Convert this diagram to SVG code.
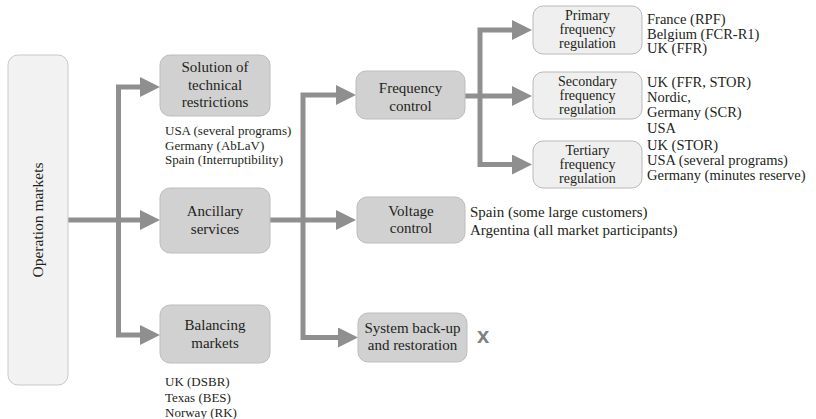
<svg xmlns="http://www.w3.org/2000/svg" width="816" height="419" viewBox="0 0 816 419">
<style>
.main{fill:#d1d1d1;stroke:#bdbdbd;stroke-width:1}
.light{fill:#efefef;stroke:#b9b9b9;stroke-width:1}
.outer{fill:#f2f2f2;stroke:#c9c9c9;stroke-width:1}
.conn{fill:none;stroke:#8f8f8f;stroke-width:5;stroke-linejoin:miter}
text{font-family:"Liberation Serif","Times New Roman",serif;fill:#231f20}
.t15{font-size:15px;text-anchor:middle}
.t14{font-size:14px;text-anchor:middle}
.l13{font-size:13px}
.l145{font-size:14.5px}
.l15{font-size:15px}
</style>
<defs>
<marker id="ah" markerUnits="userSpaceOnUse" markerWidth="20" markerHeight="20" refX="5" refY="10" orient="auto">
<path d="M0,0 L20,10 L0,20 z" fill="#8f8f8f"/>
</marker>
</defs>

<g id="connectors">
<path class="conn" d="M68,220 H145" marker-end="url(#ah)"/>
<path class="conn" d="M118.5,222 V87 H145" marker-end="url(#ah)"/>
<path class="conn" d="M118.5,218 V335 H145" marker-end="url(#ah)"/>
<path class="conn" d="M270,220 H341" marker-end="url(#ah)"/>
<path class="conn" d="M303,222 V95 H341" marker-end="url(#ah)"/>
<path class="conn" d="M303,218 V337.5 H343" marker-end="url(#ah)"/>
<path class="conn" d="M465,96 H517" marker-end="url(#ah)"/>
<path class="conn" d="M480,98 V30 H517" marker-end="url(#ah)"/>
<path class="conn" d="M480,94 V164.5 H517" marker-end="url(#ah)"/>
</g>

<g id="operation-markets">
<rect class="outer" x="8" y="55" width="60" height="330" rx="10"/>
<text transform="translate(43,220) rotate(-90)" style="font-size:15.5px;text-anchor:middle">Operation markets</text>
</g>

<g id="solution">
<rect class="main" x="160" y="55" width="110" height="61" rx="10"/>
<text class="t15" x="215" y="72">Solution of</text>
<text class="t15" x="215" y="89.5">technical</text>
<text class="t15" x="215" y="107">restrictions</text>
<text class="l13" x="165" y="135">USA (several programs)</text>
<text class="l13" x="165" y="149.5">Germany (AbLaV)</text>
<text class="l13" x="165" y="164">Spain (Interruptibility)</text>
</g>

<g id="ancillary">
<rect class="main" x="160" y="188" width="110" height="65" rx="10"/>
<text class="t15" x="215" y="216">Ancillary</text>
<text class="t15" x="215" y="234">services</text>
</g>

<g id="balancing">
<rect class="main" x="160" y="305" width="110" height="58" rx="10"/>
<text class="t15" x="215" y="330">Balancing</text>
<text class="t15" x="215" y="348">markets</text>
<text class="l13" x="165" y="386">UK (DSBR)</text>
<text class="l13" x="165" y="401.5">Texas (BES)</text>
<text class="l13" x="165" y="417">Norway (RK)</text>
</g>

<g id="frequency-control">
<rect class="main" x="356" y="71" width="109" height="48" rx="10"/>
<text class="t15" x="410.5" y="93">Frequency</text>
<text class="t15" x="410.5" y="111">control</text>
</g>

<g id="voltage-control">
<rect class="main" x="357" y="197" width="108" height="46" rx="10"/>
<text class="t15" x="411" y="216">Voltage</text>
<text class="t15" x="411" y="233">control</text>
<text class="l15" x="470" y="217">Spain (some large customers)</text>
<text class="l15" x="470" y="235">Argentina (all market participants)</text>
</g>

<g id="system-backup">
<rect class="main" x="358" y="313" width="109" height="49" rx="10"/>
<text class="t15" x="412.5" y="333">System back-up</text>
<text class="t15" x="412.5" y="350">and restoration</text>
<text x="483" y="343" style="font-family:'Liberation Sans',Arial,sans-serif;font-weight:bold;font-size:22px;fill:#7f7f7f;text-anchor:middle">x</text>
</g>

<g id="primary">
<rect class="light" x="533" y="6" width="109" height="48" rx="10"/>
<text class="t14" x="587.5" y="19.5">Primary</text>
<text class="t14" x="587.5" y="33.5">frequency</text>
<text class="t14" x="587.5" y="47.5">regulation</text>
<text class="l145" x="647" y="24">France (RPF)</text>
<text class="l145" x="647" y="39">Belgium (FCR-R1)</text>
<text class="l145" x="647" y="53">UK (FFR)</text>
</g>

<g id="secondary">
<rect class="light" x="533" y="72" width="109" height="47" rx="10"/>
<text class="t14" x="587.5" y="86">Secondary</text>
<text class="t14" x="587.5" y="100">frequency</text>
<text class="t14" x="587.5" y="114">regulation</text>
<text class="l145" x="647" y="87">UK (FFR, STOR)</text>
<text class="l145" x="647" y="102">Nordic,</text>
<text class="l145" x="647" y="117">Germany (SCR)</text>
<text class="l145" x="647" y="133">USA</text>
</g>

<g id="tertiary">
<rect class="light" x="533" y="141" width="109" height="47" rx="10"/>
<text class="t14" x="587.5" y="155">Tertiary</text>
<text class="t14" x="587.5" y="169">frequency</text>
<text class="t14" x="587.5" y="183">regulation</text>
<text class="l145" x="647" y="150">UK (STOR)</text>
<text class="l145" x="647" y="165">USA (several programs)</text>
<text class="l145" x="647" y="180">Germany (minutes reserve)</text>
</g>
</svg>
